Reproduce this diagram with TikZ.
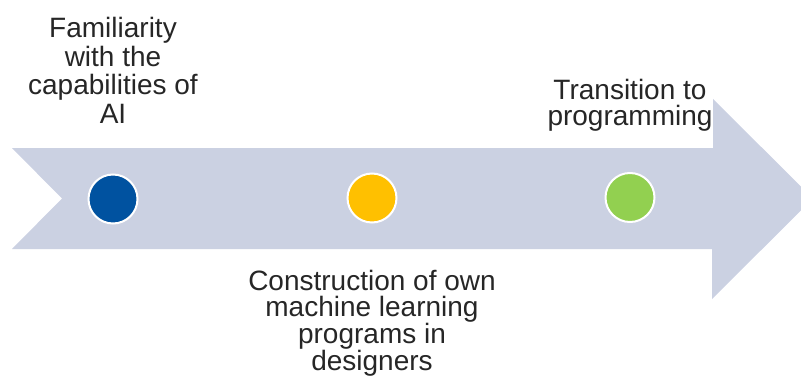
\documentclass[tikz,border=0pt]{standalone}
\usepackage{fontspec}
\setmainfont{Liberation Sans}
\definecolor{arrowfill}{RGB}{203,209,226}
\definecolor{dotblue}{RGB}{0,82,160}
\definecolor{dotyellow}{RGB}{255,192,0}
\definecolor{dotgreen}{RGB}{146,208,80}
\definecolor{txtcol}{RGB}{38,38,38}
\begin{document}
\begin{tikzpicture}[x=1pt,y=-1pt,
  bigarrow/.style={fill=arrowfill,draw=none},
  dot/.style={circle,draw=white,line width=2pt,minimum size=49pt,inner sep=0pt},
  label/.style={align=center,text=txtcol,inner sep=0pt,anchor=north},
]
\useasboundingbox (0,0) rectangle (801,380);
\begin{scope}
\clip (0,0) rectangle (801,380);
\fill[bigarrow] (12,148) -- (712,148) -- (712,98) -- (813,198.5) -- (712,299) -- (712,249) -- (12,249) -- (62,198.5) -- cycle;
\end{scope}
\node[dot,fill=dotblue] (d1) at (113,199) {};
\node[dot,fill=dotyellow] (d2) at (372,198) {};
\node[dot,fill=dotgreen] (d3) at (630,197.5) {};
\node[label,font=\fontsize{28}{28.5}\selectfont] (t1) at (113,17.5) {Familiarity\\with the\\capabilities of\\AI};
\node[label,font=\fontsize{28}{26.7}\selectfont] (t2) at (372,269.6) {Construction of own\\machine learning\\programs in\\designers};
\node[label,font=\fontsize{28}{26}\selectfont,fill=white,inner xsep=1pt,inner ysep=16pt] (t3) at (630,63.3) {Transition to\\programming};
\end{tikzpicture}
\end{document}
